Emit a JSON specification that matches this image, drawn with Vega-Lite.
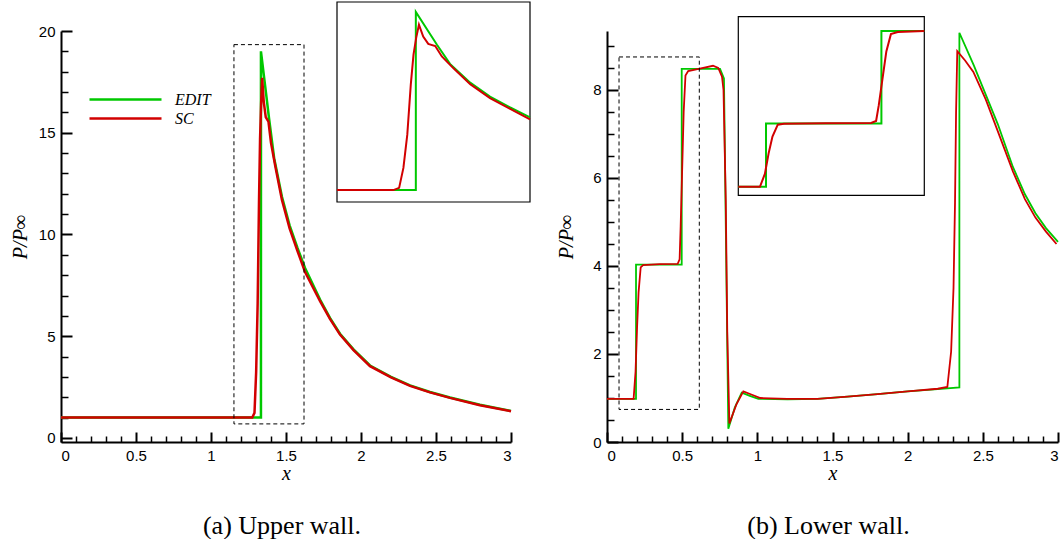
{
  "$schema": "https://vega.github.io/schema/vega-lite/v6.json",
  "background": "white",
  "padding": {"left": 10, "top": 1, "right": 0, "bottom": 0},
  "datasets": {
    "upper": [
      {"x":0,"p":1,"s":"EDIT"},{"x":1.13,"p":1,"s":"EDIT"},{"x":1.333,"p":1,"s":"EDIT"},{"x":1.333,"p":19.0,"s":"EDIT"},
      {"x":1.37,"p":16.75,"s":"EDIT"},{"x":1.387,"p":15.7,"s":"EDIT"},{"x":1.421,"p":13.75,"s":"EDIT"},{"x":1.473,"p":11.85,"s":"EDIT"},
      {"x":1.524,"p":10.45,"s":"EDIT"},{"x":1.576,"p":9.35,"s":"EDIT"},{"x":1.627,"p":8.35,"s":"EDIT"},{"x":1.727,"p":6.8,"s":"EDIT"},
      {"x":1.793,"p":5.9,"s":"EDIT"},{"x":1.86,"p":5.12,"s":"EDIT"},{"x":1.95,"p":4.35,"s":"EDIT"},{"x":2.06,"p":3.56,"s":"EDIT"},
      {"x":2.2,"p":3.0,"s":"EDIT"},{"x":2.327,"p":2.58,"s":"EDIT"},{"x":2.46,"p":2.26,"s":"EDIT"},{"x":2.593,"p":1.99,"s":"EDIT"},
      {"x":2.793,"p":1.63,"s":"EDIT"},{"x":3.0,"p":1.33,"s":"EDIT"},
      {"x":0,"p":1,"s":"SC"},{"x":1.13,"p":1,"s":"SC"},{"x":1.275,"p":1,"s":"SC"},{"x":1.29,"p":1.23,"s":"SC"},
      {"x":1.301,"p":3.24,"s":"SC"},{"x":1.311,"p":6.6,"s":"SC"},{"x":1.32,"p":11.65,"s":"SC"},{"x":1.327,"p":14.68,"s":"SC"},
      {"x":1.334,"p":16.4,"s":"SC"},{"x":1.341,"p":17.7,"s":"SC"},{"x":1.352,"p":16.5,"s":"SC"},{"x":1.365,"p":15.77,"s":"SC"},
      {"x":1.383,"p":15.55,"s":"SC"},{"x":1.4,"p":14.5,"s":"SC"},{"x":1.43,"p":13.3,"s":"SC"},{"x":1.473,"p":11.7,"s":"SC"},
      {"x":1.524,"p":10.3,"s":"SC"},{"x":1.576,"p":9.2,"s":"SC"},{"x":1.627,"p":8.15,"s":"SC"},{"x":1.727,"p":6.72,"s":"SC"},
      {"x":1.793,"p":5.85,"s":"SC"},{"x":1.86,"p":5.08,"s":"SC"},{"x":1.95,"p":4.32,"s":"SC"},{"x":2.06,"p":3.53,"s":"SC"},
      {"x":2.2,"p":2.98,"s":"SC"},{"x":2.327,"p":2.56,"s":"SC"},{"x":2.46,"p":2.24,"s":"SC"},{"x":2.593,"p":1.97,"s":"SC"},
      {"x":2.793,"p":1.61,"s":"SC"},{"x":3.0,"p":1.31,"s":"SC"}
    ],
    "lower": [
      {"x":0,"p":0.98,"s":"EDIT"},{"x":0.12,"p":0.98,"s":"EDIT"},{"x":0.193,"p":0.98,"s":"EDIT"},{"x":0.193,"p":4.03,"s":"EDIT"},
      {"x":0.497,"p":4.03,"s":"EDIT"},{"x":0.497,"p":8.48,"s":"EDIT"},{"x":0.61,"p":8.48,"s":"EDIT"},{"x":0.752,"p":8.48,"s":"EDIT"},
      {"x":0.778,"p":8.26,"s":"EDIT"},{"x":0.807,"p":0.3,"s":"EDIT"},{"x":0.85,"p":0.78,"s":"EDIT"},{"x":0.896,"p":1.12,"s":"EDIT"},
      {"x":0.95,"p":1.05,"s":"EDIT"},{"x":1.007,"p":0.98,"s":"EDIT"},{"x":1.2,"p":0.97,"s":"EDIT"},{"x":1.4,"p":0.98,"s":"EDIT"},
      {"x":1.6,"p":1.03,"s":"EDIT"},{"x":1.8,"p":1.09,"s":"EDIT"},{"x":2.0,"p":1.15,"s":"EDIT"},{"x":2.2,"p":1.2,"s":"EDIT"},
      {"x":2.344,"p":1.24,"s":"EDIT"},{"x":2.344,"p":9.3,"s":"EDIT"},{"x":2.44,"p":8.56,"s":"EDIT"},{"x":2.6,"p":7.22,"s":"EDIT"},
      {"x":2.7,"p":6.25,"s":"EDIT"},{"x":2.78,"p":5.63,"s":"EDIT"},{"x":2.85,"p":5.2,"s":"EDIT"},{"x":2.92,"p":4.86,"s":"EDIT"},{"x":3.0,"p":4.55,"s":"EDIT"},
      {"x":0,"p":0.98,"s":"SC"},{"x":0.12,"p":0.98,"s":"SC"},{"x":0.177,"p":0.98,"s":"SC"},{"x":0.19,"p":1.6,"s":"SC"},
      {"x":0.2,"p":2.6,"s":"SC"},{"x":0.21,"p":3.4,"s":"SC"},{"x":0.224,"p":3.97,"s":"SC"},{"x":0.24,"p":4.02,"s":"SC"},
      {"x":0.35,"p":4.04,"s":"SC"},{"x":0.47,"p":4.05,"s":"SC"},{"x":0.483,"p":4.15,"s":"SC"},{"x":0.49,"p":4.9,"s":"SC"},
      {"x":0.5,"p":6.2,"s":"SC"},{"x":0.51,"p":7.5,"s":"SC"},{"x":0.522,"p":8.33,"s":"SC"},{"x":0.54,"p":8.43,"s":"SC"},
      {"x":0.61,"p":8.48,"s":"SC"},{"x":0.705,"p":8.55,"s":"SC"},{"x":0.74,"p":8.5,"s":"SC"},{"x":0.765,"p":8.3,"s":"SC"},
      {"x":0.775,"p":8.0,"s":"SC"},{"x":0.79,"p":5.5,"s":"SC"},{"x":0.8,"p":2.5,"s":"SC"},{"x":0.814,"p":0.42,"s":"SC"},
      {"x":0.86,"p":0.85,"s":"SC"},{"x":0.907,"p":1.15,"s":"SC"},{"x":0.96,"p":1.08,"s":"SC"},{"x":1.02,"p":1.0,"s":"SC"},
      {"x":1.2,"p":0.98,"s":"SC"},{"x":1.4,"p":0.98,"s":"SC"},{"x":1.6,"p":1.03,"s":"SC"},{"x":1.8,"p":1.09,"s":"SC"},
      {"x":2.0,"p":1.15,"s":"SC"},{"x":2.2,"p":1.21,"s":"SC"},{"x":2.264,"p":1.25,"s":"SC"},{"x":2.289,"p":2.05,"s":"SC"},
      {"x":2.305,"p":3.5,"s":"SC"},{"x":2.315,"p":5.45,"s":"SC"},{"x":2.322,"p":7.5,"s":"SC"},{"x":2.33,"p":8.88,"s":"SC"},
      {"x":2.382,"p":8.67,"s":"SC"},{"x":2.437,"p":8.41,"s":"SC"},{"x":2.52,"p":7.78,"s":"SC"},{"x":2.593,"p":7.12,"s":"SC"},
      {"x":2.7,"p":6.15,"s":"SC"},{"x":2.78,"p":5.52,"s":"SC"},{"x":2.85,"p":5.1,"s":"SC"},{"x":2.92,"p":4.78,"s":"SC"},{"x":2.99,"p":4.5,"s":"SC"}
    ],
    "dashU": [{"x0":1.153,"x1":1.62,"y0":0.69,"y1":19.33}],
    "dashL": [{"x0":0.08,"x1":0.614,"y0":0.74,"y1":8.75}],
    "boxU": [{"x0":1.13,"x1":1.627,"y0":-0.2,"y1":20}],
    "boxL": [{"x0":0.12,"x1":0.61,"y0":0.57,"y1":9.17}]
  },
  "hconcat": [
    {
      "width": 450,
      "height": 411,
      "title": {"text": "(a) Upper wall.", "orient": "bottom", "anchor": "middle", "frame": "group", "font": "Liberation Serif", "fontSize": 26, "fontWeight": "normal", "color": "black", "offset": 30, "dx": -4},
      "layer": [
        {
          "layer": [
            {
              "data": {"name": "upper"},
              "mark": {"type": "line", "strokeWidth": 2.5},
              "encoding": {
                "x": {"field": "x", "type": "quantitative", "scale": {"domain": [0, 3], "nice": false, "zero": false},
                      "axis": {"orient": "bottom", "values": [0, 0.5, 1, 1.5, 2, 2.5, 3], "format": "~g", "ticks": false, "labelPadding": 6, "title": "x", "titlePadding": 0}},
                "y": {"field": "p", "type": "quantitative", "scale": {"domain": [-0.2, 20], "nice": false, "zero": false},
                      "axis": {"orient": "left", "values": [0, 5, 10, 15, 20], "format": "~g", "ticks": false, "labelPadding": 6, "title": "P/P∞", "titlePadding": 8}},
                "color": {"field": "s", "type": "nominal", "scale": {"domain": ["EDIT", "SC"], "range": ["#00c800", "#d20000"]},
                          "legend": {"orient": "none", "legendX": 27, "legendY": 60, "padding": 0, "title": null, "symbolType": "stroke", "symbolSize": 5184, "symbolStrokeWidth": 2.5,
                                     "clipHeight": 17, "labelFont": "Liberation Serif", "labelFontStyle": "italic", "labelFontSize": 16, "labelColor": "black", "labelOffset": 12, "rowPadding": 2}},
                "order": {"value": null}
              }
            },
            {
              "data": {"name": "dashU"},
              "mark": {"type": "rect", "filled": false, "color": "black", "strokeDash": [4, 3], "strokeWidth": 1},
              "encoding": {
                "x": {"field": "x0", "type": "quantitative",
                      "axis": {"orient": "bottom", "values": [0, 0.5, 1, 1.5, 2, 2.5, 3], "labels": false, "domain": false, "tickSize": 10, "offset": -10, "tickWidth": 2, "title": null}},
                "x2": {"field": "x1"},
                "y": {"field": "y0", "type": "quantitative",
                      "axis": {"orient": "left", "values": [0, 5, 10, 15, 20], "labels": false, "domain": false, "tickSize": 11, "offset": -11, "tickWidth": 2, "title": null}},
                "y2": {"field": "y1"}
              }
            },
            {
              "data": {"name": "dashU"},
              "mark": {"type": "point", "opacity": 0},
              "encoding": {
                "x": {"field": "x0", "type": "quantitative",
                      "axis": {"orient": "bottom", "values": [0.1,0.2,0.3,0.4,0.6,0.7,0.8,0.9,1.1,1.2,1.3,1.4,1.6,1.7,1.8,1.9,2.1,2.2,2.3,2.4,2.6,2.7,2.8,2.9], "labels": false, "domain": false, "tickSize": 6, "offset": -6, "tickWidth": 1.5, "title": null}},
                "y": {"field": "y0", "type": "quantitative",
                      "axis": {"orient": "left", "values": [1,2,3,4,6,7,8,9,11,12,13,14,16,17,18,19], "labels": false, "domain": false, "tickSize": 7, "offset": -7, "tickWidth": 1.5, "title": null}}
              }
            }
          ],
          "resolve": {"axis": {"x": "independent", "y": "independent"}}
        },
        {
          "layer": [
            {
              "data": {"name": "boxU"},
              "mark": {"type": "rect", "fill": "white", "stroke": "black", "strokeWidth": 1.2},
              "encoding": {
                "x": {"field": "x0", "type": "quantitative", "scale": {"domain": [1.13, 1.627], "range": [276, 469], "nice": false, "zero": false}, "axis": null},
                "x2": {"field": "x1"},
                "y": {"field": "y0", "type": "quantitative", "scale": {"domain": [-0.2, 20], "range": [171, -29], "nice": false, "zero": false}, "axis": null},
                "y2": {"field": "y1"}
              }
            },
            {
              "data": {"name": "upper"},
              "transform": [{"filter": "datum.x >= 1.13 && datum.x <= 1.627"}],
              "mark": {"type": "line", "strokeWidth": 2},
              "encoding": {
                "x": {"field": "x", "type": "quantitative", "axis": null},
                "y": {"field": "p", "type": "quantitative", "axis": null},
                "color": {"field": "s", "type": "nominal"},
                "order": {"value": null}
              }
            }
          ]
        }
      ],
      "resolve": {"scale": {"x": "independent", "y": "independent"}}
    },
    {
      "width": 451,
      "height": 411,
      "title": {"text": "(b) Lower wall.", "orient": "bottom", "anchor": "middle", "frame": "group", "font": "Liberation Serif", "fontSize": 26, "fontWeight": "normal", "color": "black", "offset": 30, "dx": -4},
      "layer": [
        {
          "layer": [
            {
              "data": {"name": "lower"},
              "mark": {"type": "line", "strokeWidth": 1.8},
              "encoding": {
                "x": {"field": "x", "type": "quantitative", "scale": {"domain": [0, 3], "nice": false, "zero": false},
                      "axis": {"orient": "bottom", "values": [0, 0.5, 1, 1.5, 2, 2.5, 3], "format": "~g", "ticks": false, "labelPadding": 6, "title": "x", "titlePadding": 0}},
                "y": {"field": "p", "type": "quantitative", "scale": {"domain": [0, 9.34], "nice": false, "zero": false},
                      "axis": {"orient": "left", "values": [0, 2, 4, 6, 8], "format": "~g", "ticks": false, "labelPadding": 6, "title": "P/P∞", "titlePadding": 16}},
                "color": {"field": "s", "type": "nominal", "scale": {"domain": ["EDIT", "SC"], "range": ["#00c800", "#d20000"]}, "legend": null},
                "order": {"value": null}
              }
            },
            {
              "data": {"name": "dashL"},
              "mark": {"type": "rect", "filled": false, "color": "black", "strokeDash": [4, 3], "strokeWidth": 1},
              "encoding": {
                "x": {"field": "x0", "type": "quantitative",
                      "axis": {"orient": "bottom", "values": [0, 0.5, 1, 1.5, 2, 2.5, 3], "labels": false, "domain": false, "tickSize": 10, "offset": -10, "tickWidth": 2, "title": null}},
                "x2": {"field": "x1"},
                "y": {"field": "y0", "type": "quantitative",
                      "axis": {"orient": "left", "values": [0, 2, 4, 6, 8], "labels": false, "domain": false, "tickSize": 11, "offset": -11, "tickWidth": 2, "title": null}},
                "y2": {"field": "y1"}
              }
            },
            {
              "data": {"name": "dashL"},
              "mark": {"type": "point", "opacity": 0},
              "encoding": {
                "x": {"field": "x0", "type": "quantitative",
                      "axis": {"orient": "bottom", "values": [0.1,0.2,0.3,0.4,0.6,0.7,0.8,0.9,1.1,1.2,1.3,1.4,1.6,1.7,1.8,1.9,2.1,2.2,2.3,2.4,2.6,2.7,2.8,2.9], "labels": false, "domain": false, "tickSize": 6, "offset": -6, "tickWidth": 1.5, "title": null}},
                "y": {"field": "y0", "type": "quantitative",
                      "axis": {"orient": "left", "values": [0.5,1,1.5,2.5,3,3.5,4.5,5,5.5,6.5,7,7.5,8.5,9], "labels": false, "domain": false, "tickSize": 7, "offset": -7, "tickWidth": 1.5, "title": null}}
              }
            }
          ],
          "resolve": {"axis": {"x": "independent", "y": "independent"}}
        },
        {
          "layer": [
            {
              "data": {"name": "boxL"},
              "mark": {"type": "rect", "fill": "white", "stroke": "black", "strokeWidth": 1.2},
              "encoding": {
                "x": {"field": "x0", "type": "quantitative", "scale": {"domain": [0.12, 0.61], "range": [131.3, 317.3], "nice": false, "zero": false}, "axis": null},
                "x2": {"field": "x1"},
                "y": {"field": "y0", "type": "quantitative", "scale": {"domain": [0.57, 9.17], "range": [164.3, -14.3], "nice": false, "zero": false}, "axis": null},
                "y2": {"field": "y1"}
              }
            },
            {
              "data": {"name": "lower"},
              "transform": [{"filter": "datum.x >= 0.12 && datum.x <= 0.61"}],
              "mark": {"type": "line", "strokeWidth": 2},
              "encoding": {
                "x": {"field": "x", "type": "quantitative", "axis": null},
                "y": {"field": "p", "type": "quantitative", "axis": null},
                "color": {"field": "s", "type": "nominal", "legend": null},
                "order": {"value": null}
              }
            }
          ]
        }
      ],
      "resolve": {"scale": {"x": "independent", "y": "independent"}}
    }
  ],
  "spacing": 96,
  "bounds": "flush",
  "resolve": {"scale": {"color": "independent"}},
  "config": {
    "view": {"stroke": null},
    "axis": {
      "grid": false,
      "domainColor": "black",
      "domainWidth": 2,
      "tickColor": "black",
      "labelColor": "black",
      "labelFont": "Liberation Sans",
      "labelFontSize": 15,
      "titleColor": "black",
      "titleFont": "Liberation Serif",
      "titleFontStyle": "italic",
      "titleFontWeight": "normal",
      "titleFontSize": 20
    }
  }
}
